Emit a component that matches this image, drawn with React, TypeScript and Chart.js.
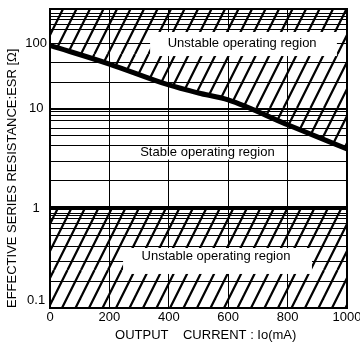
import React, { useEffect, useRef } from 'react';
import { Chart, registerables, LogarithmicScale } from 'chart.js';

// ---- data ----
const currentMA = [0, 200, 400, 500, 600, 800, 1000];
const esrUpperLimit = [92, 47.5, 22.6, 17, 13.3, 6.8, 3.9];
const lowerCurrentMA = [0, 1000];
const esrLowerLimit = [1, 1];
const xTickValues = [0, 200, 400, 600, 800, 1000];
const yLabelValues = [0.1, 1, 10, 100];
const yGridValues = [
  0.183, 0.29, 0.41, 0.537, 0.617, 0.7, 0.79, 0.85, 0.885,
  1.87, 2.95, 4.2, 5.25, 6.27, 7.46, 8.5, 9.2, 9.6,
  25, 51,
  250, 360, 475, 600, 750,
];
const regionLabels = ['Unstable operating region', 'Stable operating region', 'Unstable operating region'];
// label boxes in data units: [x0, x1, yLow, yHigh, labelX, labelY]
const regionBoxes = [
  [337, 966, 63, 211, 647, 100],
  [290, 771, 3.05, 4.1, 530, 3.63],
  [246, 882, 0.219, 0.398, 559, 0.33],
];

// decade breakpoints of the (non-uniform) log axis of the original figure
const DECADE_LOGS = [-1, 0, 1, 2, 3];
const DECADE_FRACS = [0, 100 / 299, 200 / 299, 265 / 299, 1];

const FONT = '"Liberation Sans", Arial, Helvetica, sans-serif';

function interp(v: number, xs: number[], ys: number[]) {
  let i = 0;
  while (i < xs.length - 2 && v > xs[i + 1]) i++;
  const t = (v - xs[i]) / (xs[i + 1] - xs[i]);
  return ys[i] + t * (ys[i + 1] - ys[i]);
}

class SegmentedLogScale extends LogarithmicScale {
  static id = 'segmentedLog';
  static defaults = {};
  getPixelForValue(value: any) {
    if (value === undefined || value === 0) value = this.min;
    if (value === null || isNaN(value)) return NaN;
    const l = Math.log10(value);
    return this.getPixelForDecimal(interp(l, DECADE_LOGS, DECADE_FRACS));
  }
  getValueForPixel(pixel: number) {
    const f = this.getDecimalForPixel(pixel);
    return Math.pow(10, interp(f, DECADE_FRACS, DECADE_LOGS));
  }
}

Chart.register(...registerables, SegmentedLogScale as any);

function makeHatch() {
  const c = document.createElement('canvas');
  c.width = 27;
  c.height = 54;
  const g = c.getContext('2d')!;
  g.strokeStyle = '#000';
  g.lineWidth = 2.2;
  for (let k = -2; k <= 2; k++) {
    const x0 = k * 13.5;
    g.beginPath();
    g.moveTo(x0, 54);
    g.lineTo(x0 + 27, 0);
    g.stroke();
  }
  return g.createPattern(c, 'repeat')!;
}

const overlayPlugin = {
  id: 'regionOverlay',
  afterDatasetsDraw(chart: any) {
    const { ctx } = chart;
    const xs = chart.scales.x;
    const ys = chart.scales.y;
    ctx.save();
    ctx.fillStyle = '#fff';
    regionBoxes.forEach((b) => {
      const l = xs.getPixelForValue(b[0]);
      const r = xs.getPixelForValue(b[1]);
      const bt = ys.getPixelForValue(b[2]);
      const tp = ys.getPixelForValue(b[3]);
      ctx.fillRect(l, tp, r - l, bt - tp);
    });
    ctx.fillStyle = '#000';
    ctx.font = '13px ' + FONT;
    ctx.textAlign = 'center';
    ctx.textBaseline = 'middle';
    regionBoxes.forEach((b, i) => {
      ctx.fillText(regionLabels[i], xs.getPixelForValue(b[4]), ys.getPixelForValue(b[5]));
    });
    ctx.restore();
  },
  afterDraw(chart: any) {
    const { ctx, chartArea } = chart;
    ctx.save();
    ctx.strokeStyle = '#000';
    ctx.lineWidth = 2;
    ctx.strokeRect(chartArea.left, chartArea.top, chartArea.right - chartArea.left, chartArea.bottom - chartArea.top);
    ctx.restore();
  },
};

export default function App() {
  const ref = useRef<HTMLCanvasElement>(null);
  useEffect(() => {
    const canvas = ref.current;
    if (!canvas) return;
    const hatch = makeHatch();
    const chart = new Chart(canvas, {
      type: 'line',
      data: {
        datasets: [
          {
            data: currentMA.map((c, i) => ({ x: c, y: esrUpperLimit[i] })),
            borderColor: '#000',
            borderWidth: 5,
            pointRadius: 0,
            cubicInterpolationMode: 'monotone',
            fill: 'end',
            backgroundColor: hatch,
          },
          {
            data: lowerCurrentMA.map((c, i) => ({ x: c, y: esrLowerLimit[i] })),
            borderColor: '#000',
            borderWidth: 4,
            pointRadius: 0,
            tension: 0,
            fill: 'start',
            backgroundColor: hatch,
          },
        ],
      },
      options: {
        responsive: false,
        animation: false,
        devicePixelRatio: 1,
        layout: { autoPadding: false, padding: { top: 9, right: 13, bottom: 0, left: 0 } },
        plugins: { legend: { display: false }, tooltip: { enabled: false } },
        scales: {
          x: {
            type: 'linear',
            min: 0,
            max: 1000,
            afterBuildTicks: (s: any) => {
              s.ticks = xTickValues.map((v) => ({ value: v }));
            },
            afterFit: (s: any) => {
              s.height = 39;
              s.paddingLeft = 0;
              s.paddingRight = 0;
            },
            grid: { color: '#000', lineWidth: 1, drawTicks: false },
            border: { display: false },
            ticks: {
              autoSkip: false,
              maxRotation: 0,
              padding: 2,
              color: '#000',
              font: { family: FONT, size: 13 },
              callback: (v: any) => String(v),
            },
            title: {
              display: true,
              text: '    OUTPUT    CURRENT : Io(mA)',
              color: '#000',
              font: { family: FONT, size: 13 },
              padding: { top: 0, bottom: 4 },
            },
          },
          y: {
            type: 'segmentedLog' as any,
            min: 0.1,
            max: 1000,
            afterBuildTicks: (s: any) => {
              s.ticks = [...yLabelValues, ...yGridValues].sort((a, b) => a - b).map((v) => ({ value: v }));
            },
            afterFit: (s: any) => {
              s.width = 50;
              s.paddingTop = 0;
              s.paddingBottom = 0;
            },
            grid: { color: '#000', lineWidth: 1, drawTicks: false },
            border: { display: false },
            ticks: {
              autoSkip: false,
              padding: 3,
              crossAlign: 'center',
              color: '#000',
              font: { family: FONT, size: 13 },
              callback: (v: any) => {
                const hit = yLabelValues.find((l) => Math.abs(l - v) / l < 1e-6);
                if (hit === undefined) return '';
                return hit === 0.1 ? ['0.1', ''] : String(hit);
              },
            },
            title: {
              display: true,
              text: 'EFFECTIVE SERIES RESISTANCE:ESR [Ω]',
              align: 'start',
              color: '#000',
              font: { family: FONT, size: 13 },
              padding: { top: 5, bottom: 0 },
            },
          },
        },
      } as any,
      plugins: [overlayPlugin],
    });
    return () => chart.destroy();
  }, []);
  return (
    <div style={{ position: 'fixed', left: 0, top: 0, width: 360, height: 347, overflow: 'hidden', background: '#fff' }}>
      <canvas ref={ref} width={360} height={347} style={{ display: 'block' }} />
    </div>
  );
}
